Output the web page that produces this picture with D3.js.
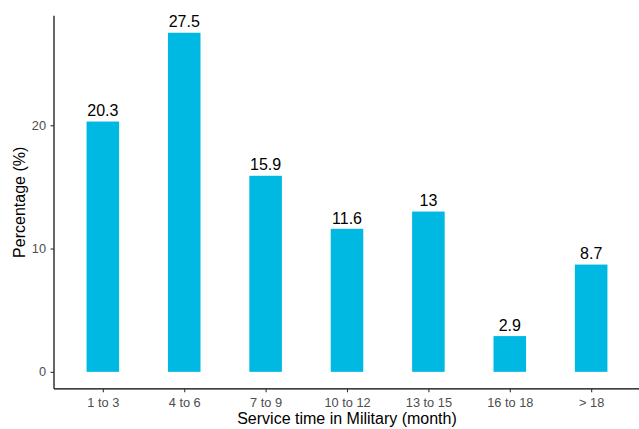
<!DOCTYPE html>
<html>
<head>
<meta charset="utf-8">
<script src="https://cdn.jsdelivr.net/npm/d3@7"></script>
<style>
  html, body { margin: 0; padding: 0; background: #fff; }
  svg { display: block; font-family: "Liberation Sans", Arial, sans-serif; }
</style>
</head>
<body>
<svg id="chart" width="639" height="429"></svg>
<script>
const categories = ["1 to 3", "4 to 6", "7 to 9", "10 to 12", "13 to 15", "16 to 18", "> 18"];
const values = [20.3, 27.5, 15.9, 11.6, 13, 2.9, 8.7];
const yTicks = [0, 10, 20];
const xTitle = "Service time in Military (month)";
const yTitle = "Percentage (%)";

const svg = d3.select("#chart");
const pLeft = 54, pRight = 640, pTop = 15.8, pBottom = 388.8;
const maxV = d3.max(values);
const expand = maxV * 0.05;

const x = d3.scalePoint().domain(categories).range([pLeft, pRight]).padding(0.6);
const y = d3.scaleLinear().domain([-expand, maxV + expand]).range([pBottom, pTop]);
const barW = x.step() * 0.4;

// bars
svg.append("g").selectAll("rect")
  .data(categories)
  .join("rect")
  .attr("x", (d) => x(d) - barW / 2)
  .attr("width", barW)
  .attr("y", (d, i) => y(values[i]))
  .attr("height", (d, i) => y(0) - y(values[i]))
  .attr("fill", "#00B9E2");

// value labels
svg.append("g").selectAll("text")
  .data(categories)
  .join("text")
  .attr("x", (d) => x(d))
  .attr("y", (d, i) => y(values[i]) - 5.3)
  .attr("text-anchor", "middle")
  .attr("font-size", 16)
  .attr("fill", "#000")
  .text((d, i) => values[i]);

// x axis
const xAxis = svg.append("g")
  .attr("transform", `translate(0,${pBottom})`)
  .call(d3.axisBottom(x).tickSize(3.5).tickPadding(6));
xAxis.attr("font-size", 12.8).attr("font-family", "Liberation Sans, Arial, sans-serif");
xAxis.select(".domain").attr("stroke", "#000").attr("stroke-width", 1.2).attr("d", `M${pLeft},0H${pRight}`);
xAxis.selectAll(".tick line").attr("stroke", "#333").attr("stroke-width", 1.1);
xAxis.selectAll(".tick text")
  .attr("fill", "#4d4d4d")
  .attr("dy", null).attr("y", 18);

// y axis
const yAxis = svg.append("g")
  .attr("transform", `translate(${pLeft},0)`)
  .call(d3.axisLeft(y).tickValues(yTicks).tickSize(3.5).tickPadding(4.5));
yAxis.attr("font-size", 12.8).attr("font-family", "Liberation Sans, Arial, sans-serif");
yAxis.select(".domain").attr("stroke", "#000").attr("stroke-width", 1.2).attr("d", `M0,${pTop}V${pBottom}`);
yAxis.selectAll(".tick line").attr("stroke", "#333").attr("stroke-width", 1.1);
yAxis.selectAll(".tick text")
  .attr("fill", "#4d4d4d");

// titles
svg.append("text")
  .attr("x", (pLeft + pRight) / 2)
  .attr("y", 424.3)
  .attr("text-anchor", "middle")
  .attr("font-size", 16)
  .attr("fill", "#000")
  .text(xTitle);

svg.append("text")
  .attr("transform", `translate(24.5,${(pTop + pBottom) / 2}) rotate(-90)`)
  .attr("text-anchor", "middle")
  .attr("font-size", 16)
  .attr("fill", "#000")
  .text(yTitle);
</script>
</body>
</html>
